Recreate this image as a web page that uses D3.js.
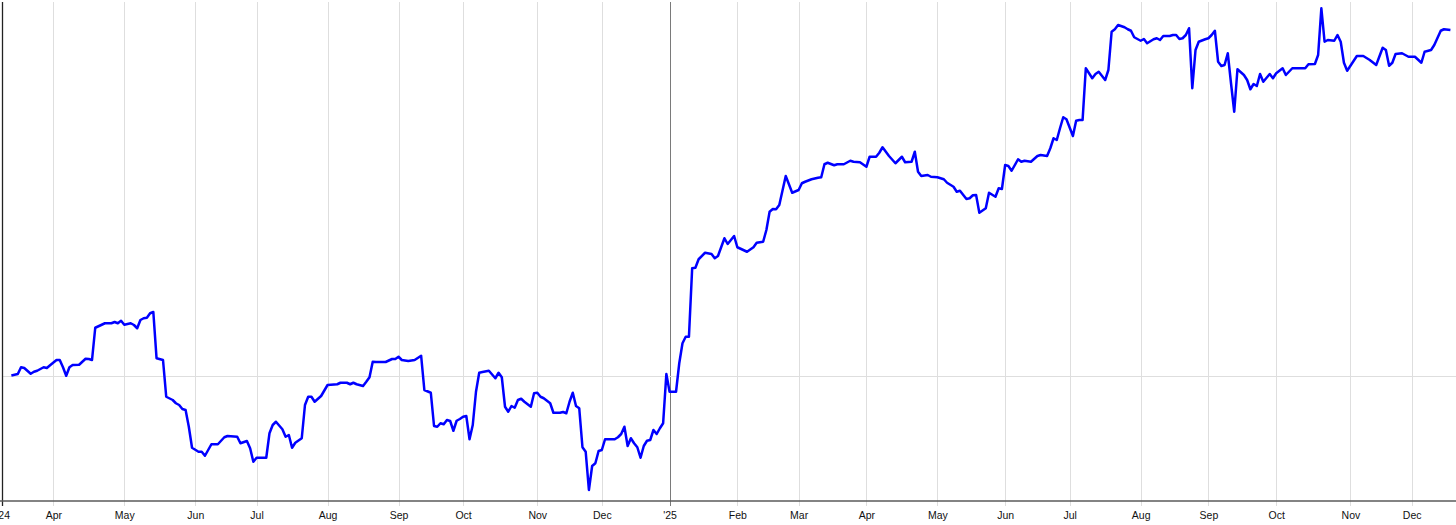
<!DOCTYPE html>
<html>
<head>
<meta charset="utf-8">
<script src="https://cdn.jsdelivr.net/npm/d3@7"></script>
<style>
html,body{margin:0;padding:0;background:#fff;}
svg{display:block;}
text{font-family:"Liberation Sans",Arial,sans-serif;}
</style>
</head>
<body>
<svg id="chart" width="1456" height="525"></svg>
<script>
// Trading-day index (0 = first trading day of Apr 2024) and relative change (%)
const days = [-13,-12,-11,-10,-9,-7,-6,-5,-3,-2,-1,1,2,3,4,5,6,8,10,11,12,13,15,16,18,19,20,21,22,24,25,26,27,28,29,30,31,32,34,35,37,38,39,40,41,42,43,45,46,47,48,49,51,53,54,57,58,60,61,62,63,66,67,68,69,71,72,73,74,75,77,78,79,80,81,83,85,88,89,91,92,93,94,96,97,98,99,100,103,105,106,107,108,110,112,114,115,117,118,119,120,121,122,123,124,125,126,127,128,129,130,131,132,133,135,137,138,139,140,141,142,143,144,145,146,148,149,150,151,152,154,155,157,158,159,160,161,162,163,164,165,166,167,168,169,170,171,174,175,176,177,178,179,180,181,182,183,184,185,186,187,188,189,190,191,193,194,195,196,197,198,199,200,202,204,205,206,208,209,211,212,215,217,218,220,221,222,223,224,225,227,229,231,232,233,235,237,238,239,240,242,243,245,247,248,250,252,253,255,256,257,259,261,263,264,266,267,268,269,271,272,274,276,277,279,280,281,283,284,285,286,287,289,290,292,293,294,295,296,297,299,300,301,303,305,306,308,309,310,311,312,313,314,316,317,318,319,320,322,323,324,326,327,328,329,330,332,333,334,335,337,338,339,341,342,343,344,346,347,348,349,350,351,352,353,354,355,357,358,359,360,361,362,363,364,365,366,367,369,370,371,372,373,374,375,377,378,379,381,382,384,388,389,391,392,393,394,395,397,398,399,400,401,404,406,408,410,412,413,414,415,416,418,420,422,424,425,427,428,430,431,433];
const values = [0,0.3,0.6,3.3,3.0,0.7,1.5,1.9,3.3,3.0,4.1,6.2,6.2,3.3,-0.1,3.3,4.2,4.3,6.7,6.6,6.2,19.1,20.3,20.9,20.9,21.4,20.9,21.9,20.3,20.9,20.2,18.9,22.2,22.9,23.1,24.9,25.4,6.9,6.2,-8.5,-9.8,-11.1,-11.8,-13.4,-13.8,-20.5,-28.9,-30.5,-30.5,-32.1,-29.8,-27.5,-27.5,-24.7,-24.2,-24.5,-27.1,-26.2,-29.1,-34.5,-32.9,-32.9,-23.1,-19.8,-18.5,-21.5,-24.5,-23.8,-28.9,-26.9,-25.1,-11.8,-8.5,-8.5,-10.5,-8.2,-3.8,-3.5,-2.9,-2.9,-3.5,-2.9,-3.5,-4.2,-2.5,-0.7,5.5,5.4,5.4,6.6,6.6,7.5,6.2,5.8,6.2,7.9,-5.8,-6.9,-20.2,-20.5,-19.1,-19.5,-17.8,-18.2,-22.1,-18.1,-17.4,-16.5,-16.2,-25.5,-19.8,-6.5,1.1,1.4,1.9,-1.1,1.1,-0.7,-12.5,-14.5,-12.2,-12.9,-9.8,-9.3,-10.5,-12.5,-7.1,-6.9,-8.5,-9.1,-11.1,-14.9,-14.9,-14.6,-15.1,-10.5,-6.9,-12.2,-13.1,-28.7,-30.5,-45.8,-36.2,-35.1,-30.2,-29.8,-25.5,-25.5,-24.7,-23.4,-20.5,-28.2,-25.1,-27.1,-28.7,-32.9,-28.2,-26.1,-25.8,-21.8,-23.4,-21.1,-19.1,0.6,-6.5,-6.5,4.9,12.9,15.5,15.5,42.9,43.1,46.5,49.1,48.6,46.9,47.8,54.9,52.6,55.8,51.3,49.5,51.3,53.1,53.5,58.2,65.5,66.6,66.5,68.2,79.8,73.1,74.2,76.9,77.5,78.5,79.1,79.3,84.5,85.1,84.1,84.5,84.5,85.9,85.5,85.3,83.5,87.5,87.5,89.1,91.3,87.8,84.9,87.5,85.3,85.5,89.5,81.5,79.8,80.2,79.5,79.3,78.5,77.1,75.5,73.5,73.9,70.6,70.9,72.1,72.2,65.1,66.9,73.1,71.5,74.9,74.6,84.2,83.8,81.9,86.5,85.5,85.9,85.5,87.8,88.2,87.8,90.9,94.9,94.2,98.9,103.3,102.5,95.8,101.9,102.2,102.2,122.9,118.9,120.6,121.5,118.2,122.2,137.5,138.5,140.2,139.3,138.5,137.9,135.3,133.9,134.6,132.9,134.5,134.9,134.2,135.8,135.8,136.2,136.2,134.6,134.9,136.2,138.9,114.9,130.2,133.5,134.5,134.9,136.2,137.9,125.5,123.8,124.2,128.9,116.9,105.5,122.5,120.2,118.2,114.5,116.6,115.8,120.6,117.5,120.6,118.9,120.9,122.9,120.2,122.9,122.9,124.5,124.6,128.2,146.9,133.5,134.2,133.9,136.2,133.5,125.1,121.9,127.8,127.8,126.2,124.2,131.1,130.2,123.9,125.1,128.6,128.9,127.5,127.5,125.1,129.5,130.2,132.2,137.9,138.5,138.2];

const tickDays   = [-15.7,0,22,44,63,85,107,127,150,170,191,212,231,252,274,295,315,337,358,379,402,421];
const tickLabels = ["'24","Apr","May","Jun","Jul","Aug","Sep","Oct","Nov","Dec","'25","Feb","Mar","Apr","May","Jun","Jul","Aug","Sep","Oct","Nov","Dec"];
const yearTicks  = ["'24","'25"];
const hGrid      = [0];

const svg = d3.select("#chart");
const x = d3.scaleLinear().domain([0, 421]).range([53.3, 1411.7]);
const y = d3.scaleLinear().domain([-49.8, 149.4]).range([500, 2]);
const yTop = 2, yBot = 501;

// vertical grid lines
const g = svg.append("g");
tickDays.forEach((d, i) => {
  const lab = tickLabels[i];
  if (lab === "'24") return;
  const isYear = yearTicks.includes(lab);
  g.append("line")
    .attr("x1", Math.round(x(d)) + 0.5).attr("x2", Math.round(x(d)) + 0.5)
    .attr("y1", yTop).attr("y2", yBot + 5)
    .attr("stroke", isYear ? "#7a7a7a" : "#dedede")
    .attr("stroke-width", 1);
});

// horizontal grid
hGrid.forEach(v => {
  g.append("line")
    .attr("x1", 2).attr("x2", 1456)
    .attr("y1", Math.round(y(v)) + 0.5).attr("y2", Math.round(y(v)) + 0.5)
    .attr("stroke", "#dedede").attr("stroke-width", 1);
});

// left axis line
svg.append("line")
  .attr("x1", 2.5).attr("x2", 2.5).attr("y1", yTop).attr("y2", yBot + 5)
  .attr("stroke", "#222").attr("stroke-width", 1.3);

// bottom axis
const xAxis = d3.axisBottom(x)
  .tickValues(tickDays)
  .tickFormat((d, i) => tickLabels[i])
  .tickSize(0).tickPadding(11);
const ax = svg.append("g").attr("transform", `translate(0,${yBot})`).call(xAxis);
ax.select(".domain").remove();
ax.selectAll("text").attr("font-size", "10.5px").attr("fill", "#111")
  .attr("font-family", "'Liberation Sans', Arial, sans-serif");
svg.append("line")
  .attr("x1", 0).attr("x2", 1456).attr("y1", yBot).attr("y2", yBot)
  .attr("stroke", "#5a5a5a").attr("stroke-width", 1.6);

// series line
const line = d3.line()
  .x((d, i) => x(days[i]))
  .y((d) => y(d));
svg.append("path")
  .datum(values)
  .attr("d", line)
  .attr("fill", "none")
  .attr("stroke", "#0000ff")
  .attr("stroke-width", 2.5)
  .attr("stroke-linejoin", "round");
</script>
</body>
</html>
